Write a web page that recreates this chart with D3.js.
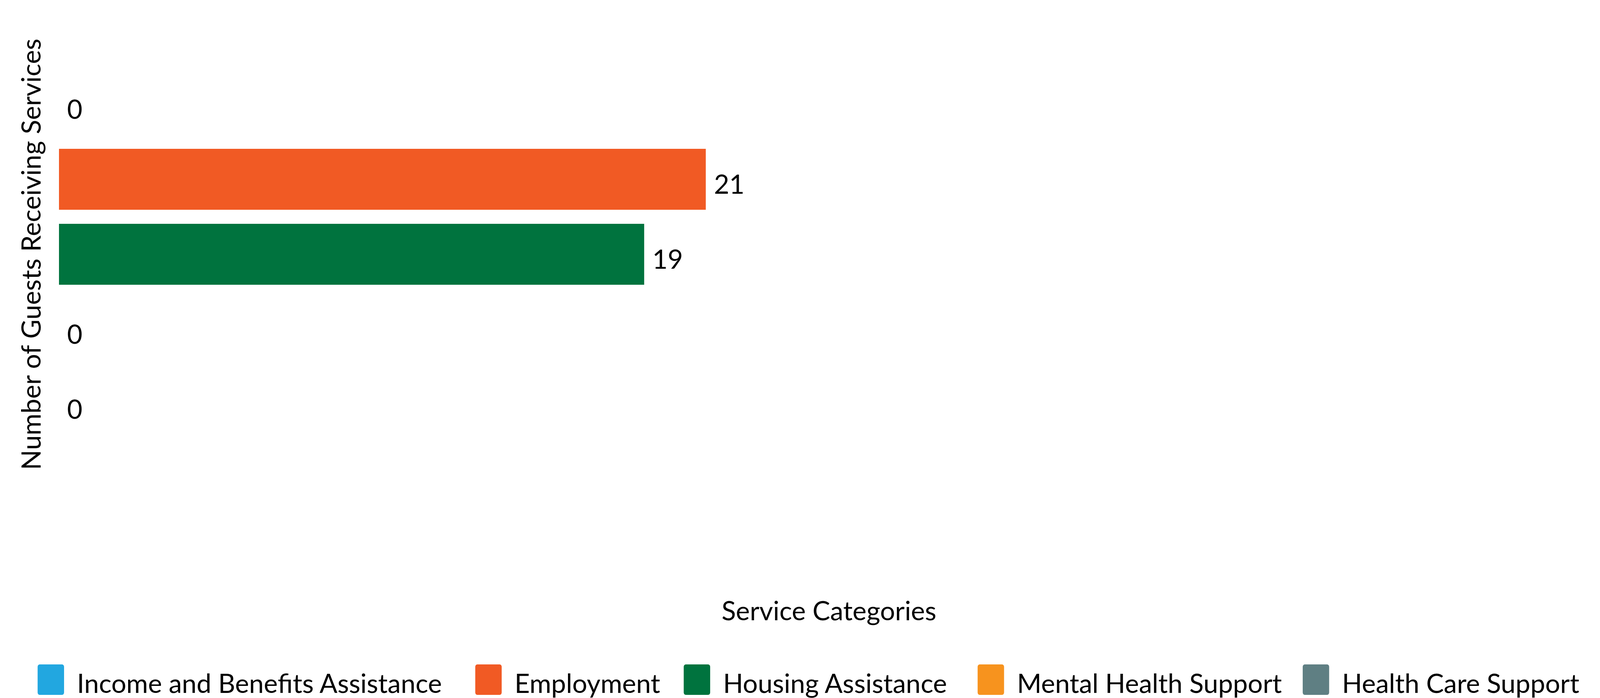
<!DOCTYPE html>
<html>
<head>
<meta charset="utf-8">
<script src="https://cdn.jsdelivr.net/npm/d3@7"></script>
<style>
  html, body { margin: 0; padding: 0; background: #fff; overflow: hidden; }
  svg { display: block; font-family: Lato, sans-serif; }
</style>
</head>
<body>
<svg id="chart"></svg>
<script>
// chart data
const categories = [
  'Income and Benefits Assistance',
  'Employment',
  'Housing Assistance',
  'Mental Health Support',
  'Health Care Support'
];
const guests = [0, 21, 19, 0, 0];
const colors = ['#22a7e0', '#f15a24', '#00733e', '#f7931e', '#5f7f83'];
const xDomain = [0, 50];
const xTitle = 'Service Categories';
const yTitle = 'Number of Guests Receiving Services';

// layout is worked out on a 4720 x 1787 design, then stretched to the window
const BASE_W = 4720, BASE_H = 1787;
const W = window.innerWidth || BASE_W;
const H = window.innerHeight || BASE_H;
const sx = W / BASE_W, sy = H / BASE_H;
const fontSize = 78 * Math.min(sx, sy);

const plot = { left: 174, right: 4717, top: 171, bottom: 1131 };
const legendX = [111, 1402, 2017, 2884, 3843]; // legend item starts (chart.js spacing)

const svg = d3.select('#chart').attr('width', W).attr('height', H);

const x = d3.scaleLinear().domain(xDomain).range([plot.left * sx, plot.right * sx]);
const y = d3.scaleBand()
  .domain(categories)
  .range([plot.top * sy, plot.bottom * sy])
  .paddingInner(0.1875)
  .paddingOuter(0.09375);

const rows = categories.map((c, i) => ({ cat: c, value: guests[i], color: colors[i] }));

// bars
svg.append('g')
  .selectAll('rect')
  .data(rows)
  .join('rect')
  .attr('x', x(0))
  .attr('y', d => y(d.cat))
  .attr('width', d => x(d.value) - x(0))
  .attr('height', y.bandwidth())
  .attr('fill', d => d.color);

// value labels at bar end
svg.append('g')
  .selectAll('text')
  .data(rows)
  .join('text')
  .attr('x', d => x(d.value) + 24 * sx)
  .attr('y', d => y(d.cat) + y.bandwidth() / 2 + 37 * sy)
  .attr('font-size', fontSize)
  .attr('fill', '#000')
  .text(d => d.value);

// axis titles
svg.append('text')
  .attr('x', (plot.left + plot.right) / 2 * sx)
  .attr('y', 1588 * sy)
  .attr('text-anchor', 'middle')
  .attr('font-size', fontSize)
  .text(xTitle);

svg.append('text')
  .attr('transform', `translate(${120 * sx}, ${(plot.top + plot.bottom) / 2 * sy}) rotate(-90)`)
  .attr('text-anchor', 'middle')
  .attr('font-size', fontSize)
  .text(yTitle);

// legend
const box = 78, textGap = 38;
const items = svg.append('g')
  .selectAll('g')
  .data(rows)
  .join('g')
  .attr('transform', (d, i) => `translate(${legendX[i] * sx},0)`);
items.append('rect')
  .attr('width', box * sx).attr('height', box * sy)
  .attr('y', 1701 * sy)
  .attr('rx', 6 * sx).attr('ry', 6 * sy)
  .attr('fill', d => d.color);
items.append('text')
  .attr('x', (box + textGap) * sx)
  .attr('y', 1774 * sy)
  .attr('font-size', fontSize)
  .text(d => d.cat);
</script>
</body>
</html>
